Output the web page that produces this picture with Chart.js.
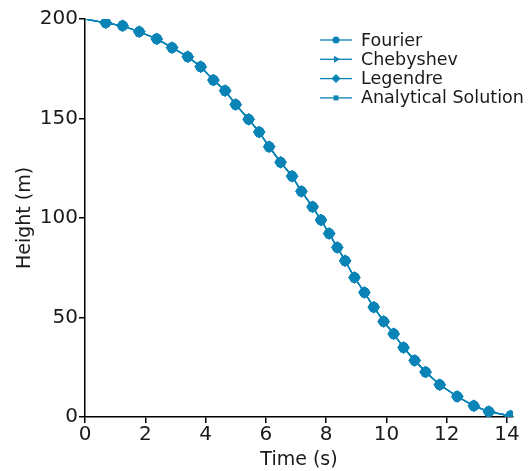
<!DOCTYPE html>
<html>
<head>
<meta charset="utf-8">
<script src="https://cdn.jsdelivr.net/npm/chart.js@4/dist/chart.umd.min.js"></script>
<style>
  html, body { margin: 0; padding: 0; background: #ffffff; }
  #wrap { width: 531px; height: 471px; position: relative; }
</style>
</head>
<body>
<div id="wrap"><canvas id="chart"></canvas></div>
<script>
// 数据：时间 (s) 与高度 (m)
const timeS = [0, 0.69, 1.25, 1.8, 2.38, 2.89, 3.41, 3.84, 4.26, 4.65, 5.0, 5.43, 5.78, 6.11, 6.49,
  6.87, 7.18, 7.55, 7.83, 8.1, 8.37, 8.63, 8.94, 9.27, 9.58, 9.91, 10.24, 10.57, 10.94, 11.3,
  11.77, 12.35, 12.9, 13.4, 14.12];
const fourier = [200, 198.1, 196.6, 193.6, 190, 185.6, 181, 176, 169.3, 164, 157, 149.6, 143.2, 135.8, 128,
  121, 113.4, 105.6, 99, 92.2, 85.2, 78.5, 70.1, 62.6, 55.2, 48, 41.8, 34.9, 28.4, 22.6,
  16.2, 10.3, 5.6, 2.7, 0.5];
const chebyshev = [200, 198.1, 196.6, 193.6, 190, 185.6, 181, 176, 169.3, 164, 157, 149.6, 143.2, 135.8, 128,
  121, 113.4, 105.6, 99, 92.2, 85.2, 78.5, 70.1, 62.6, 55.2, 48, 41.8, 34.9, 28.4, 22.6,
  16.2, 10.3, 5.6, 2.7, 0.5];
const legendre = [200, 198.1, 196.6, 193.6, 190, 185.6, 181, 176, 169.3, 164, 157, 149.6, 143.2, 135.8, 128,
  121, 113.4, 105.6, 99, 92.2, 85.2, 78.5, 70.1, 62.6, 55.2, 48, 41.8, 34.9, 28.4, 22.6,
  16.2, 10.3, 5.6, 2.7, 0.5];
const analytical = [200, 198.1, 196.6, 193.6, 190, 185.6, 181, 176, 169.3, 164, 157, 149.6, 143.2, 135.8, 128,
  121, 113.4, 105.6, 99, 92.2, 85.2, 78.5, 70.1, 62.6, 55.2, 48, 41.8, 34.9, 28.4, 22.6,
  16.2, 10.3, 5.6, 2.7, 0.5];
const seriesNames = ['Fourier', 'Chebyshev', 'Legendre', 'Analytical Solution'];
const xTicks = [0, 2, 4, 6, 8, 10, 12, 14];
const yTicks = [0, 50, 100, 150, 200];

const BLUE = '#0a84b6';
const FONT = "'DejaVu Sans', sans-serif";

const styles = [
  { pointStyle: 'circle', rotation: 0, radius: 5 },
  { pointStyle: 'triangle', rotation: 90, radius: 5.5 },
  { pointStyle: 'rectRot', rotation: 0, radius: 6 },
  { pointStyle: 'rect', rotation: 0, radius: 5 },
];
const legendRadius = [3.5, 4, 4.5, 3.5];

const seriesData = [fourier, chebyshev, legendre, analytical];

const datasets = seriesData.map((vals, i) => ({
  label: seriesNames[i],
  data: timeS.map((t, k) => ({ x: t, y: vals[k] })),
  borderColor: BLUE,
  backgroundColor: BLUE,
  borderWidth: 1.3,
  pointStyle: styles[i].pointStyle,
  rotation: styles[i].rotation,
  pointRadius: (ctx) => ctx.dataIndex === 0 ? 0 : styles[i].radius,
  pointBorderWidth: 1,
  tension: 0,
}));

// 图内图例：线段 + 标记 + 文字
const insideLegend = {
  id: 'insideLegend',
  afterDraw(chart) {
    const { ctx, chartArea } = chart;
    const x0 = chartArea.left + 235;
    const y0 = chartArea.top + 21;
    const rowH = 19.3;
    ctx.save();
    seriesNames.forEach((name, i) => {
      const y = y0 + i * rowH;
      ctx.strokeStyle = BLUE;
      ctx.lineWidth = 1.3;
      ctx.beginPath();
      ctx.moveTo(x0, y);
      ctx.lineTo(x0 + 32, y);
      ctx.stroke();
      ctx.fillStyle = BLUE;
      Chart.helpers.drawPoint(ctx, {
        pointStyle: styles[i].pointStyle,
        rotation: styles[i].rotation,
        radius: legendRadius[i],
        borderWidth: 0,
      }, x0 + 16, y);
      ctx.fillStyle = '#1a1a1a';
      ctx.font = `17.5px ${FONT}`;
      ctx.textBaseline = 'middle';
      ctx.textAlign = 'left';
      ctx.fillText(name, x0 + 41, y + 1);
    });
    ctx.restore();
  },
};

new Chart(document.getElementById('chart'), {
  type: 'line',
  data: { datasets },
  options: {
    responsive: true,
    maintainAspectRatio: false,
    animation: false,
    layout: { padding: { top: 19, right: 18, left: 0, bottom: 0 } },
    plugins: {
      legend: { display: false },
      tooltip: { enabled: false },
    },
    scales: {
      x: {
        type: 'linear',
        min: 0,
        max: 14.2,
        afterBuildTicks: (scale) => { scale.ticks = xTicks.map(v => ({ value: v })); },
        afterFit: (scale) => { scale.height = 54; },
        grid: { drawOnChartArea: false, drawTicks: true, tickLength: 6, color: '#000', lineWidth: 1.5 },
        border: { display: true, color: '#000', width: 1.5 },
        ticks: { color: '#1a1a1a', font: { family: FONT, size: 20 }, padding: 0, maxRotation: 0 },
        title: {
          display: true,
          text: 'Time (s)',
          color: '#1a1a1a',
          font: { family: FONT, size: 19 },
          padding: { top: 0, bottom: 0 },
        },
      },
      y: {
        min: 0,
        max: 200,
        afterBuildTicks: (scale) => { scale.ticks = yTicks.map(v => ({ value: v })); },
        afterFit: (scale) => { scale.width = 85; },
        grid: { drawOnChartArea: false, drawTicks: true, tickLength: 6, color: '#000', lineWidth: 1.5 },
        border: { display: true, color: '#000', width: 1.5 },
        ticks: { color: '#1a1a1a', font: { family: FONT, size: 20 }, padding: 1 },
        title: {
          display: true,
          text: 'Height (m)',
          color: '#1a1a1a',
          font: { family: FONT, size: 19 },
          padding: { top: 14, bottom: 4 },
        },
      },
    },
  },
  plugins: [insideLegend],
});
</script>
</body>
</html>
